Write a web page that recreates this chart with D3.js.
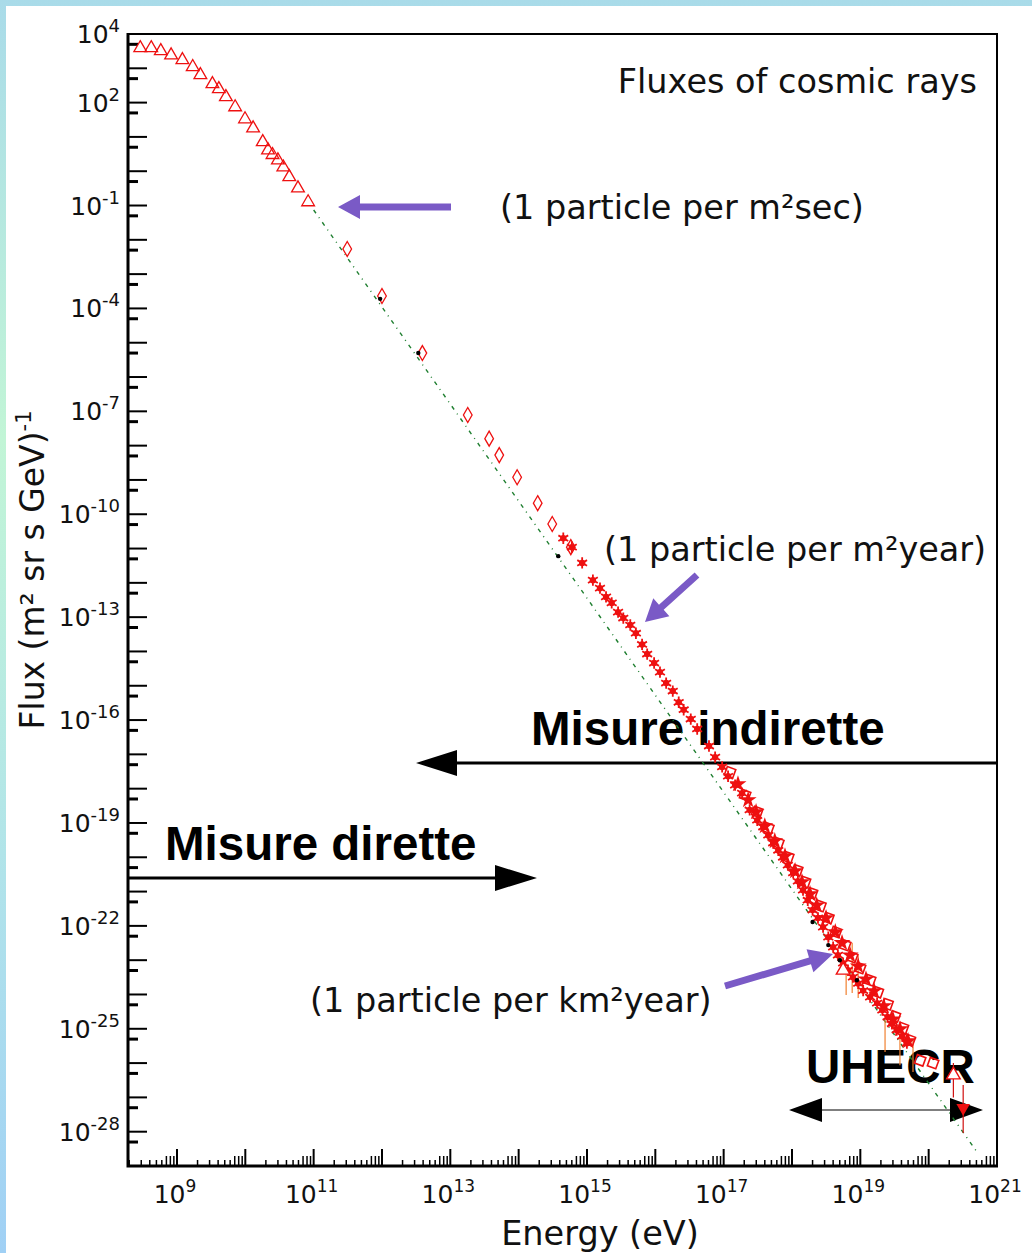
<!DOCTYPE html>
<html>
<head>
<meta charset="utf-8">
<script src="https://cdn.jsdelivr.net/npm/d3@7"></script>
<style>
  html, body { margin: 0; padding: 0; background: #fff; }
  svg { display: block; }
</style>
</head>
<body>
<svg id="chart" width="1032" height="1253"></svg>
<script>
// ---- data (energy in eV, flux in (m^2 sr s GeV)^-1) ----
const triEnergy = [2.9e8, 4.2e8, 5.8e8, 8.2e8, 1.2e9, 1.7e9, 2.2e9, 3.3e9, 4.1e9, 5.2e9, 7.1e9,
  9.9e9, 1.3e10, 1.8e10, 2.15e10, 2.5e10, 3.0e10, 3.6e10, 4.4e10, 5.9e10, 8.3e10];
const triFlux = [3.9e3, 3.9e3, 3.2e3, 2.4e3, 1.75e3, 1.1e3, 640, 350, 250, 146, 74,
  33, 18, 7.1, 4.1, 3.0, 2.1, 1.3, 0.68, 0.32, 0.126];

const diaEnergy = [3.1e11, 1.0e12, 3.9e12, 1.8e13, 3.7e13, 5.2e13, 9.5e13, 1.9e14, 3.1e14, 5.8e14];
const diaFlux = [5.4e-3, 2.3e-4, 5.0e-6, 7.8e-8, 1.6e-8, 5.3e-9, 1.2e-9, 2.1e-10, 5.2e-11, 1.1e-11];

const starEnergy = [4.5e14, 6.0e14, 8.5e14, 1.22e15, 1.55e15, 1.9e15, 2.3e15, 2.85e15, 3.4e15, 4.3e15,
  5.2e15, 6.4e15, 7.6e15, 9.6e15, 1.17e16, 1.44e16, 1.8e16, 2.2e16, 2.6e16, 3.3e16,
  4.1e16, 6.1e16, 7.5e16, 9.5e16, 1.16e17, 1.47e17, 1.86e17, 2.4e17, 3.1e17, 3.8e17,
  4.5e17, 5.3e17, 6.3e17, 7.4e17, 8.7e17, 1.04e18, 1.22e18, 1.45e18, 1.7e18, 2.0e18,
  2.4e18, 2.85e18, 3.4e18, 4.0e18, 4.7e18, 5.6e18, 6.6e18, 7.8e18, 9.3e18, 1.1e19,
  1.39e19, 1.76e19, 2.1e19, 2.5e19, 2.9e19, 3.4e19, 4.1e19, 4.8e19];
const starFlux = [2.0e-11, 1.1e-11, 3.8e-12, 1.2e-12, 7.0e-13, 3.9e-13, 2.6e-13, 1.4e-13, 9.4e-14, 5.9e-14,
  3.4e-14, 1.6e-14, 8.4e-15, 4.6e-15, 2.5e-15, 1.2e-15, 7.0e-16, 3.3e-16, 2.0e-16, 1.07e-16,
  5.5e-17, 1.75e-17, 8.3e-18, 4.3e-18, 2.3e-18, 1.27e-18, 7.4e-19, 2.4e-19, 1.2e-19, 7.6e-20,
  4.4e-20, 2.6e-20, 1.6e-20, 1.0e-20, 5.9e-21, 3.5e-21, 2.0e-21, 1.1e-21, 5.6e-22, 2.9e-22,
  1.7e-22, 9.2e-23, 4.7e-23, 2.4e-23, 1.4e-23, 8.2e-24, 5.1e-24, 3.2e-24, 2.1e-24, 1.3e-24,
  8.4e-25, 5.6e-25, 3.5e-25, 2.2e-25, 1.4e-25, 9.2e-26, 6.1e-26, 3.8e-26];

// filled stars along the middle of the dense band
const bandEnergy = [1.62e17, 2.28e17, 2.98e17, 4.0e17, 5.6e17, 7.9e17, 1.11e18, 1.4e18, 1.84e18, 2.3e18,
  3.15e18, 4.3e18, 5.4e18, 7.1e18, 9.3e18, 1.21e19, 1.59e19, 2.2e19, 3.0e19, 3.8e19, 5.0e19];
const bandFlux = [1.36e-18, 4.7e-19, 2.1e-19, 8.1e-20, 3.0e-20, 1.08e-20, 4.0e-21, 1.9e-21, 8.5e-22, 4.0e-22,
  1.7e-22, 6.6e-23, 3.2e-23, 1.4e-23, 6.7e-24, 2.8e-24, 1.26e-24, 4.6e-25, 1.9e-25, 9.8e-26, 4.4e-26];

const squareEnergy = [1.24e17, 2.06e17, 3.1e17, 4.5e17, 6.3e17, 8.8e17, 1.19e18, 1.55e18, 1.96e18, 2.6e18,
  3.4e18, 4.4e18, 6.0e18, 7.6e18, 9.9e18, 1.39e19, 1.8e19, 2.5e19, 3.2e19, 4.2e19, 5.3e19, 7.5e19, 1.16e20];
const squareFlux = [3.0e-18, 6.5e-19, 2.1e-19, 7.1e-20, 2.6e-20, 1.0e-20, 4.2e-21, 1.9e-21, 9.0e-22, 3.8e-22,
  1.7e-22, 6.6e-23, 2.75e-23, 1.23e-23, 5.9e-24, 2.6e-24, 1.17e-24, 5.2e-25, 2.3e-25, 1.05e-25, 4.7e-26, 1.2e-26, 1.0e-26];

const openTriEnergy = [5.6e18, 2.3e20];
const openTriFlux = [5.1e-24, 4.5e-27];
const limitEnergy = [3.2e20];
const limitFlux = [4.9e-28];

const errEnergy = [6.2e18, 7.6e18, 9.3e18, 2.3e19, 3.8e19, 5.9e19, 2.3e20, 3.2e20];
const errHigh = [5.9e-24, 3.2e-23, 1.4e-23, 1.8e-25, 9.1e-26, 4.7e-26, 1.0e-26, 2.3e-27];
const errLow = [9.6e-25, 1.1e-24, 7.9e-25, 2.1e-26, 8.7e-27, 5.5e-27, 1.0e-27, 9.1e-29];

const dotEnergy = [9.4e11, 3.4e12, 3.8e14, 2.0e18, 3.4e18, 5.0e18, 8.9e18];
const dotFlux = [1.9e-4, 5.0e-6, 6.0e-12, 1.3e-22, 2.75e-23, 1.0e-23, 2.6e-24];

// reference power law (green dotted)
const refEnergy = [1e11, 5e20];
const refFlux = [0.074, 2.7e-29];

const xLabelExps = [9, 11, 13, 15, 17, 19, 21];
const yLabelExps = [4, 2, -1, -4, -7, -10, -13, -16, -19, -22, -25, -28];

// ---- layout ----
const svg = d3.select("#chart");
const W = 1032, H = 1253;
const plot = { left: 128, right: 997, top: 34, bottom: 1166 };

const x = d3.scaleLog().domain([1.92e8, 1e21]).range([plot.left, plot.right]);
const y = d3.scaleLog().domain([1e-29, 1e4]).range([plot.bottom, plot.top]);

const sans = "'DejaVu Sans', sans-serif";
const bold = "'Liberation Sans', Arial, sans-serif";
const red = "#ee1010";

// background with coloured border
const defs = svg.append("defs");
const grad = defs.append("linearGradient").attr("id", "bg")
  .attr("x1", 0).attr("y1", 0).attr("x2", 0).attr("y2", 1);
grad.append("stop").attr("offset", "0%").attr("stop-color", "#a9dbe9");
grad.append("stop").attr("offset", "35%").attr("stop-color", "#c2f5d6");
grad.append("stop").attr("offset", "70%").attr("stop-color", "#b0e3ea");
grad.append("stop").attr("offset", "100%").attr("stop-color", "#a0d0f5");
svg.append("rect").attr("width", W).attr("height", H).attr("fill", "url(#bg)");
svg.append("rect").attr("x", 6).attr("y", 6).attr("width", W - 6).attr("height", H - 6).attr("fill", "#fff");

// ---- axes ----
const axes = svg.append("g");

// x ticks
const xMajor = d3.range(9, 22).map(e => Math.pow(10, e));
const xMinor = [];
d3.range(8, 21).forEach(e => {
  d3.range(2, 10).forEach(k => {
    const v = k * Math.pow(10, e);
    if (v > x.domain()[0] && v < x.domain()[1]) xMinor.push({ v, k });
  });
});
axes.selectAll("line.xminor").data(xMinor).enter().append("line")
  .attr("x1", d => x(d.v)).attr("x2", d => x(d.v))
  .attr("y1", plot.bottom).attr("y2", d => plot.bottom - (d.k >= 7 ? 10 : 6))
  .attr("stroke", "#000").attr("stroke-width", 1.5);
axes.selectAll("line.xmajor").data(xMajor).enter().append("line")
  .attr("x1", d => x(d)).attr("x2", d => x(d))
  .attr("y1", plot.bottom).attr("y2", plot.bottom - 17)
  .attr("stroke", "#000").attr("stroke-width", 2);

// y ticks
const yMajor = d3.range(-29, 5).map(e => Math.pow(10, e));
const yMinor = d3.range(-29, 4).map(e => 5 * Math.pow(10, e));
axes.selectAll("line.ymajor").data(yMajor).enter().append("line")
  .attr("x1", plot.left).attr("x2", plot.left + 19)
  .attr("y1", d => y(d)).attr("y2", d => y(d))
  .attr("stroke", "#000").attr("stroke-width", 2);
axes.selectAll("line.yminor").data(yMinor).enter().append("line")
  .attr("x1", plot.left).attr("x2", plot.left + 10)
  .attr("y1", d => y(d)).attr("y2", d => y(d))
  .attr("stroke", "#000").attr("stroke-width", 3);

// frame
axes.append("path")
  .attr("d", `M${plot.left},${plot.top}H${plot.right}V${plot.bottom}`)
  .attr("fill", "none").attr("stroke", "#000").attr("stroke-width", 2);
axes.append("path")
  .attr("d", `M${plot.left},${plot.top - 1}V${plot.bottom}H${plot.right + 1}`)
  .attr("fill", "none").attr("stroke", "#000").attr("stroke-width", 3);

// tick labels
const xl = axes.selectAll("text.xl").data(xLabelExps).enter().append("text")
  .attr("x", d => x(Math.pow(10, d)) - 2).attr("y", 1203)
  .attr("text-anchor", "middle")
  .style("font-family", sans).style("font-size", "25px").attr("fill", "#111");
xl.append("tspan").text("10");
xl.append("tspan").attr("dy", -11).style("font-size", "17px").text(d => d);

const yl = axes.selectAll("text.yl").data(yLabelExps).enter().append("text")
  .attr("x", 120).attr("y", d => y(Math.pow(10, d)) + 9)
  .attr("text-anchor", "end")
  .style("font-family", sans).style("font-size", "25px").attr("fill", "#111");
yl.append("tspan").text("10");
yl.append("tspan").attr("dy", -11).style("font-size", "18px").text(d => d);

// axis titles
svg.append("text").attr("x", 600).attr("y", 1245).attr("text-anchor", "middle")
  .style("font-family", sans).style("font-size", "33.5px").attr("fill", "#111")
  .text("Energy (eV)");
const yt = svg.append("text")
  .attr("transform", "translate(44,570) rotate(-90)")
  .attr("text-anchor", "middle")
  .style("font-family", sans).style("font-size", "33px").attr("fill", "#111");
yt.append("tspan").text("Flux (m² sr s GeV)");
yt.append("tspan").attr("dy", -13).style("font-size", "21px").text("-1");

// ---- annotations (drawn under the data) ----
function arrowPolygon(x0, y0, x1, y1, sw, hl, hw) {
  const dx = x1 - x0, dy = y1 - y0, len = Math.hypot(dx, dy);
  const ux = dx / len, uy = dy / len, nx = -uy, ny = ux;
  const bx = x1 - ux * hl, by = y1 - uy * hl;
  const pts = [
    [x0 + nx * sw / 2, y0 + ny * sw / 2],
    [bx + nx * sw / 2, by + ny * sw / 2],
    [bx + nx * hw / 2, by + ny * hw / 2],
    [x1, y1],
    [bx - nx * hw / 2, by - ny * hw / 2],
    [bx - nx * sw / 2, by - ny * sw / 2],
    [x0 - nx * sw / 2, y0 - ny * sw / 2]
  ];
  return "M" + pts.map(p => p.join(",")).join("L") + "Z";
}

const ann = svg.append("g");
const purple = "#7a5ac6";
ann.append("path").attr("d", arrowPolygon(451, 207, 338, 207, 7, 22, 24)).attr("fill", purple);
ann.append("path").attr("d", arrowPolygon(697, 575, 645, 622, 7, 22, 24)).attr("fill", purple);
ann.append("path").attr("d", arrowPolygon(725, 986, 833, 954, 7, 24, 24)).attr("fill", purple);

ann.append("path").attr("d", arrowPolygon(plot.right, 763, 416, 763, 3, 41, 26)).attr("fill", "#000");
ann.append("path").attr("d", arrowPolygon(plot.left, 878, 537, 878, 3, 42, 26)).attr("fill", "#000");
ann.append("path").attr("d", arrowPolygon(886, 1110, 789, 1110, 1.2, 33, 24)).attr("fill", "#000");
ann.append("path").attr("d", arrowPolygon(886, 1110, 983, 1110, 1.2, 33, 24)).attr("fill", "#000");

function label(text, xPos, yPos, size, anchor) {
  return ann.append("text").attr("x", xPos).attr("y", yPos)
    .attr("text-anchor", anchor || "start")
    .style("font-family", sans).style("font-size", size + "px").attr("fill", "#111")
    .text(text);
}
label("Fluxes of cosmic rays", 977, 93, 33.5, "end");
label("(1 particle per m²sec)", 500, 219, 33.5);
label("(1 particle per m²year)", 604, 561, 33.5);
label("(1 particle per km²year)", 310, 1012, 33.5);

function boldLabel(text, xPos, yPos) {
  return ann.append("text").attr("x", xPos).attr("y", yPos)
    .style("font-family", bold).style("font-weight", "bold").style("font-size", "47.5px")
    .attr("fill", "#000").text(text);
}
boldLabel("Misure indirette", 531, 745);
boldLabel("Misure dirette", 165, 860);
boldLabel("UHECR", 806, 1083);

// ---- data marks ----
const marks = svg.append("g");

// reference line
marks.append("path")
  .datum(refEnergy.map((e, i) => [e, refFlux[i]]))
  .attr("d", d3.line().x(d => x(d[0])).y(d => y(d[1])))
  .attr("fill", "none").attr("stroke", "#1f7f30").attr("stroke-width", 1.4)
  .attr("stroke-dasharray", "4,5,1,5");

// error bars
marks.selectAll("line.err").data(errEnergy).enter().append("line")
  .attr("x1", d => x(d)).attr("x2", d => x(d))
  .attr("y1", (d, i) => y(errHigh[i])).attr("y2", (d, i) => y(errLow[i]))
  .attr("stroke", (d, i) => i >= 6 ? "#d01010" : "#f08030").attr("stroke-width", 1.2);

// open triangles (low energy)
marks.selectAll("path.tri").data(triEnergy).enter().append("path")
  .attr("transform", (d, i) => `translate(${x(d)},${y(triFlux[i])})`)
  .attr("d", d3.symbol(d3.symbolTriangle, 70))
  .attr("fill", "none").attr("stroke", red).attr("stroke-width", 1.3);

// open diamonds
marks.selectAll("path.dia").data(diaEnergy).enter().append("path")
  .attr("transform", (d, i) => `translate(${x(d)},${y(diaFlux[i])})`)
  .attr("d", d3.symbol(d3.symbolDiamond, 65))
  .attr("fill", "none").attr("stroke", red).attr("stroke-width", 1.3);

// open squares in the dense band
marks.selectAll("path.sq").data(squareEnergy).enter().append("path")
  .attr("transform", (d, i) => `translate(${x(d)},${y(squareFlux[i])}) rotate(20)`)
  .attr("d", d3.symbol(d3.symbolSquare, 80))
  .attr("fill", "none").attr("stroke", red).attr("stroke-width", 1.6);

// filled stars in the dense band
marks.selectAll("path.band").data(bandEnergy).enter().append("path")
  .attr("transform", (d, i) => `translate(${x(d)},${y(bandFlux[i])})`)
  .attr("d", d3.symbol(d3.symbolStar, 90))
  .attr("fill", red);

// asterisks
const stars = marks.selectAll("g.star").data(starEnergy).enter().append("g")
  .attr("transform", (d, i) => `translate(${x(d)},${y(starFlux[i])})`);
stars.append("path").attr("d", d3.symbol(d3.symbolAsterisk, 90))
  .attr("fill", "none").attr("stroke", red).attr("stroke-width", 1.8);
stars.append("circle").attr("r", 3.2).attr("fill", red);

// UHECR open triangles and upper limit
marks.selectAll("path.otri").data(openTriEnergy).enter().append("path")
  .attr("transform", (d, i) => `translate(${x(d)},${y(openTriFlux[i])})`)
  .attr("d", d3.symbol(d3.symbolTriangle, 80))
  .attr("fill", "#fff").attr("stroke", red).attr("stroke-width", 1.4);
marks.selectAll("path.lim").data(limitEnergy).enter().append("path")
  .attr("transform", (d, i) => `translate(${x(d)},${y(limitFlux[i])}) rotate(180)`)
  .attr("d", d3.symbol(d3.symbolTriangle, 80))
  .attr("fill", red);

// black dots
marks.selectAll("circle.dot").data(dotEnergy).enter().append("circle")
  .attr("cx", d => x(d)).attr("cy", (d, i) => y(dotFlux[i]))
  .attr("r", 2.2).attr("fill", "#000");
</script>
</body>
</html>
